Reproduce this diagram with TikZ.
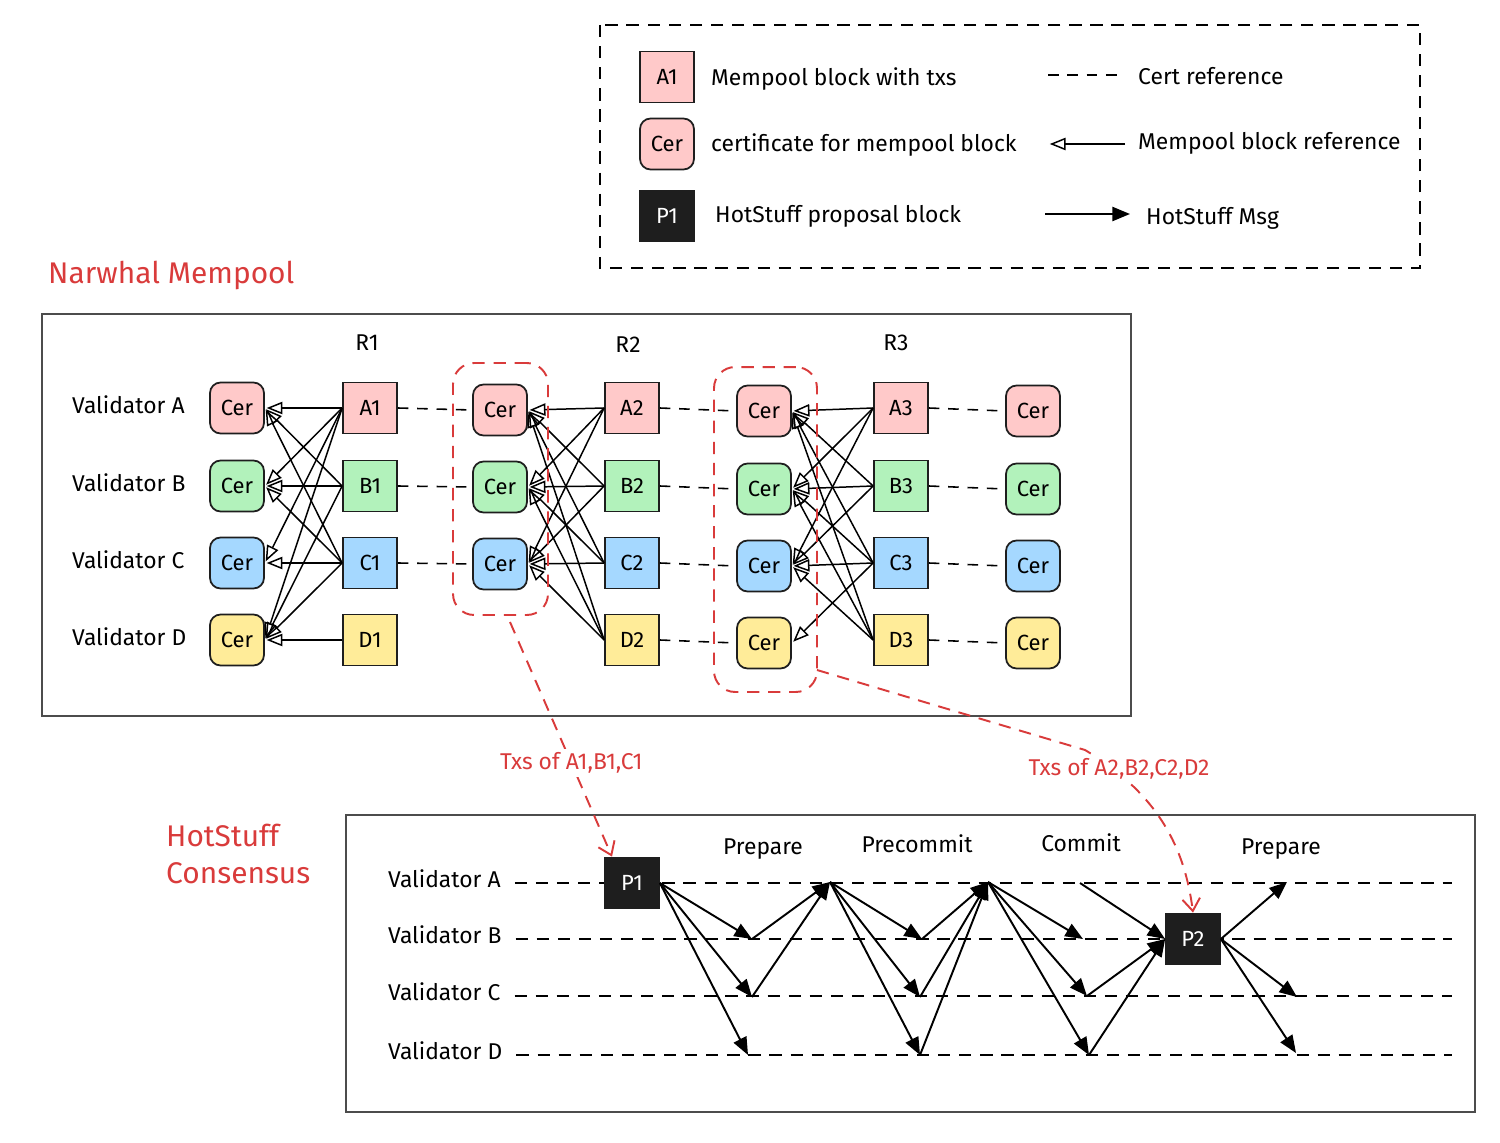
\documentclass[tikz,border=0pt]{standalone}
\usepackage{fontspec}
\setmainfont{Fira Sans}
\usetikzlibrary{arrows.meta}
\definecolor{blkpink}{HTML}{FFC9C9}
\definecolor{blkgreen}{HTML}{B2F2BB}
\definecolor{blkblue}{HTML}{A5D8FF}
\definecolor{blkyellow}{HTML}{FFEC99}
\definecolor{txsred}{HTML}{D93B3B}
\definecolor{boxblack}{HTML}{1E1E1E}
\tikzset{
  blk/.style={draw=boxblack, line width=1pt, minimum width=1.08cm, minimum height=1.02cm,
    inner sep=0pt, font=\fontsize{12.5}{14}\selectfont},
  cer/.style={blk, rounded corners=6pt},
  prop/.style={blk, fill=boxblack, text=white},
  ref/.style={-{Triangle[open, length=9pt, width=7pt]}, line width=0.85pt, shorten >=1pt},
  msg/.style={-{Triangle[length=10pt, width=8pt]}, line width=1.1pt},
  certref/.style={dash pattern=on 6pt off 5pt, line width=0.9pt},
  lane/.style={dash pattern=on 7pt off 5pt, line width=0.7pt},
  grp/.style={draw=txsred, dash pattern=on 7pt off 5pt, line width=1.1pt, rounded corners=12pt},
  txs/.style={draw=txsred, dash pattern=on 7pt off 5pt, line width=1.1pt, -{Straight Barb[length=7pt, width=10pt]}},
  txslabel/.style={text=txsred, fill=white, inner sep=2pt, font=\fontsize{13}{15}\selectfont},
  title/.style={text=txsred, font=\fontsize{17}{21}\selectfont, align=left},
  lbl/.style={font=\fontsize{13}{15}\selectfont},
}
\begin{document}
\begin{tikzpicture}[x=0.02cm, y=-0.02cm]
\useasboundingbox (0,0) rectangle (1500,1142);

% legend
\draw[dash pattern=on 7pt off 5pt, line width=1pt] (600,25) rectangle (1420,268);
\node[blk, fill=blkpink] (lgA) at (667,77) {A1};
\node[cer, fill=blkpink] (lgC) at (667,144) {Cer};
\node[prop] (lgP) at (667,216) {P1};
\node[lbl, anchor=west] at (705,79) {Mempool block with txs};
\node[lbl, anchor=west] at (705,145) {certificate for mempool block};
\node[lbl, anchor=west] at (709,216) {HotStuff proposal block};
\coordinate (lg1a) at (1048,75); \coordinate (lg1b) at (1118,75);
\coordinate (lg2a) at (1125,144); \coordinate (lg2b) at (1048,144);
\coordinate (lg3a) at (1045,214); \coordinate (lg3b) at (1130,214);
\draw[certref] (lg1a) -- (lg1b);
\draw[ref] (lg2a) -- (lg2b);
\draw[msg] (lg3a) -- (lg3b);
\node[lbl, anchor=west] at (1132,76) {Cert reference};
\node[lbl, anchor=west] at (1132,143) {Mempool block reference};
\node[lbl, anchor=west] at (1140,218) {HotStuff Msg};

% Narwhal mempool
\node[title, anchor=west] (nwTitle) at (42,275) {Narwhal Mempool};
\draw[draw=black!70, line width=0.9pt] (42,314) rectangle (1131,716);
\node[lbl] at (367,343) {R1};
\node[lbl] at (628,345) {R2};
\node[lbl] at (896,343) {R3};

\foreach \v/\y/\c in {A/408/blkpink, B/486/blkgreen, C/563/blkblue, D/640/blkyellow} {
  \node[lbl, anchor=west] (val\v) at (66,\y-3) {Validator \v};
  \node[cer, fill=\c] (c0\v) at (237,\y) {Cer};
  \node[blk, fill=\c] (b1\v) at (370,\y) {\v1};
  \node[blk, fill=\c] (b2\v) at (632,\y) {\v2};
  \node[cer, fill=\c] (c2\v) at (764,\y+3) {Cer};
  \node[blk, fill=\c] (b3\v) at (901,\y) {\v3};
  \node[cer, fill=\c] (c3\v) at (1033,\y+3) {Cer};
}
\foreach \v/\y/\c in {A/410/blkpink, B/487/blkgreen, C/564/blkblue}
  \node[cer, fill=\c] (c1\v) at (500,\y) {Cer};

% mempool block references
\foreach \s/\t in {A/A, A/B, A/C, A/D, B/A, B/B, B/D, C/A, C/B, C/C, C/D, D/D}
  \draw[ref] (b1\s.west) -- (c0\t.east);
\foreach \s in {A,B,C,D}
  \foreach \t in {A,B,C}
    \draw[ref] (b2\s.west) -- (c1\t.east);
\foreach \s/\t in {A/A, A/B, A/C, B/A, B/B, B/C, C/A, C/B, C/C, C/D, D/A, D/B, D/C}
  \draw[ref] (b3\s.west) -- (c2\t.east);

% cert references
\foreach \v in {A,B,C}
  \draw[certref] (b1\v.east) -- (c1\v.west);
\foreach \v in {A,B,C,D} {
  \draw[certref] (b2\v.east) -- (c2\v.west);
  \draw[certref] (b3\v.east) -- (c3\v.west);
}

% certs taken into proposals
\node[grp, minimum width=1.9cm, minimum height=5.04cm] (g1) at (500.5,489) {};
\node[grp, minimum width=2.06cm, minimum height=6.5cm] (g2) at (765.5,529.5) {};

% HotStuff consensus
\node[title, anchor=north west] (hsTitle) at (160,818) {HotStuff\\Consensus};
\draw[draw=black!70, line width=0.9pt] (346,815) rectangle (1475,1112);
\node[lbl] at (763,849) {Prepare};
\node[lbl] at (917,844) {Precommit};
\node[lbl] at (1081,843) {Commit};
\node[lbl] at (1281,849) {Prepare};

\foreach \v/\y in {A/883, B/939, C/996, D/1055} {
  \node[lbl, anchor=west] (hs\v) at (382,\y-4) {Validator \v};
  \coordinate (end\v) at (1452,\y);
  \draw[lane] (hs\v.east |- end\v) ++(8,0) -- (end\v);
}

\node[prop] (p1) at (632,883) {P1};
\node[prop] (p2) at (1193,939) {P2};

\coordinate (m1B) at (752,939);  \coordinate (m1C) at (752,997);  \coordinate (m1D) at (748,1055);
\coordinate (m2A) at (830,882);
\coordinate (m3B) at (922,939);  \coordinate (m3C) at (920,997);  \coordinate (m3D) at (920,1055);
\coordinate (m4A) at (988,882);
\coordinate (m5A) at (1080,883); \coordinate (m5B) at (1083,939); \coordinate (m5C) at (1087,996); \coordinate (m5D) at (1089,1055);
\coordinate (m6A) at (1287,882); \coordinate (m6C) at (1297,997); \coordinate (m6D) at (1296,1053);

\foreach \t in {B,C,D}
  \draw[msg] (p1.east) -- (m1\t);
\foreach \s in {B,C}
  \draw[msg] (m1\s) -- (m2A);
\foreach \t in {B,C,D}
  \draw[msg] (m2A) -- (m3\t);
\foreach \s in {B,C,D}
  \draw[msg] (m3\s) -- (m4A);
\foreach \t in {B,C,D}
  \draw[msg] (m4A) -- (m5\t);
\foreach \s in {A,C,D}
  \draw[msg] (m5\s) -- (p2.west);
\foreach \t in {A,C,D}
  \draw[msg] (p2.east) -- (m6\t);

% transactions handed to HotStuff
\coordinate (t1) at (510,622);
\coordinate (t2) at (817,670);
\draw[txs] (t1) -- node[pos=0.6, txslabel] {Txs of A1,B1,C1} ([xshift=-0.4cm]p1.north);
\draw[txs] (t2) -- (1085,750) .. controls (1160,795) and (1185,850) .. (p2.north);
\node[txslabel] at (1119,769) {Txs of A2,B2,C2,D2};
\end{tikzpicture}
\end{document}
